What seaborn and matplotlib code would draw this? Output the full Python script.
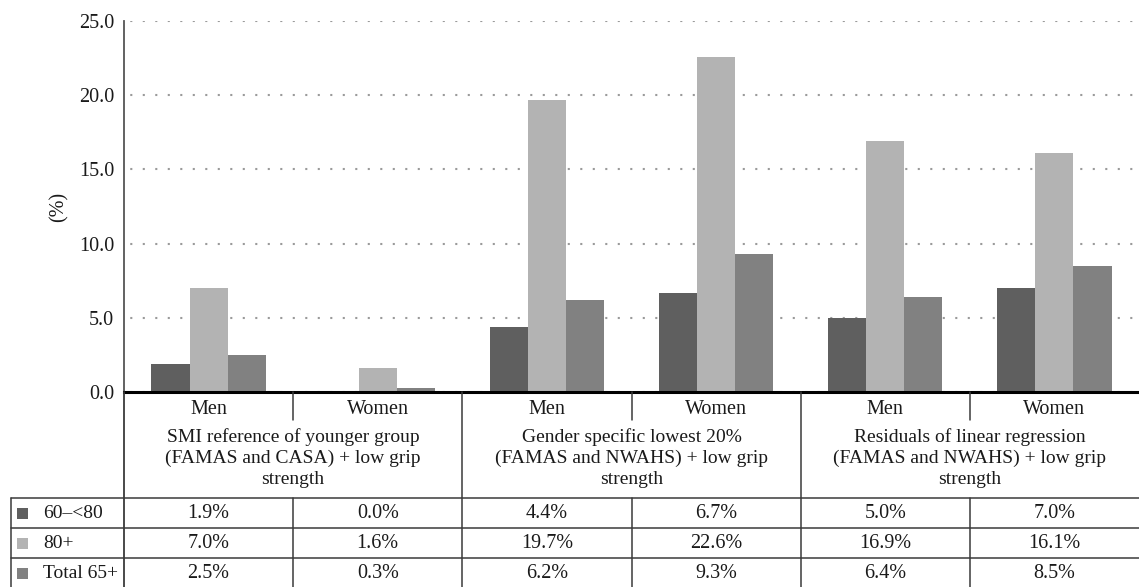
import matplotlib
matplotlib.use("Agg")
import matplotlib.pyplot as plt
import matplotlib.transforms as mtransforms
from matplotlib.lines import Line2D
from matplotlib.patches import Rectangle
import seaborn as sns
import pandas as pd

# ---------------- data ----------------
methods = [
    "SMI reference of younger group\n(FAMAS and CASA) + low grip\nstrength",
    "Gender specific lowest 20%\n(FAMAS and NWAHS) + low grip\nstrength",
    "Residuals of linear regression\n(FAMAS and NWAHS) + low grip\nstrength",
]
sexes = ["Men", "Women"]
categories = ["SMI Men", "SMI Women", "G20 Men", "G20 Women", "Res Men", "Res Women"]
series = ["60\u2013<80", "80+", "Total 65+"]
v_60_80 = [1.9, 0.0, 4.4, 6.7, 5.0, 7.0]
v_80 = [7.0, 1.6, 19.7, 22.6, 16.9, 16.1]
v_total = [2.5, 0.3, 6.2, 9.3, 6.4, 8.5]
colors = ["#5f5f5f", "#b3b3b3", "#818181"]
yticks = [0.0, 5.0, 10.0, 15.0, 20.0, 25.0]

values = [v_60_80, v_80, v_total]
df = pd.DataFrame(
    [(c, s, v) for s, vals in zip(series, values) for c, v in zip(categories, vals)],
    columns=["category", "series", "value"],
)

# ---------------- figure ----------------
W, H = 1139, 587
sns.set_theme(style="white")
plt.rcParams["font.family"] = ["Liberation Serif", "DejaVu Serif"]
FS = 14
TXT = "#1a1a1a"
LINE = "#3a3a3a"

fig = plt.figure(figsize=(W / 100, H / 100), dpi=100)
ax_left, ax_right, ax_top, ax_bottom = 124, 1139, 21, 392
ax = fig.add_axes([ax_left / W, 1 - ax_bottom / H, (ax_right - ax_left) / W, (ax_bottom - ax_top) / H])

sns.barplot(
    data=df, x="category", y="value", hue="series",
    order=categories, hue_order=series, palette=colors,
    width=0.675, saturation=1, legend=False, ax=ax, errorbar=None,
    linewidth=0, edgecolor="none",
)

ax.set_xlim(-0.5, len(categories) - 0.5)
ax.set_ylim(0, 25)
ax.set_yticks(yticks)
ax.set_yticklabels([f"{t:.1f}" for t in yticks], fontsize=FS + 0.5, color=TXT)
ax.tick_params(axis="y", length=0, pad=7)
ax.set_xticks([])
ax.set_xlabel("")
ax.set_ylabel("(%)", fontsize=FS + 0.5, color=TXT)
ax.yaxis.set_label_coords(-0.055, 0.5)

for sp in ["top", "right"]:
    ax.spines[sp].set_visible(False)
ax.spines["bottom"].set_color("black")
ax.spines["bottom"].set_linewidth(2.2)
ax.spines["left"].set_color("#555555")
ax.spines["left"].set_linewidth(1.3)

ax.set_axisbelow(True)
ax.yaxis.grid(True, color="#9a9a9a", linestyle=(3, (1, 5)), linewidth=1.5)

# ---------------- table below the chart ----------------
def fy(ypx):
    return 1 - ypx / H

blend = mtransforms.blended_transform_factory(ax.transData, fig.transFigure)

def vline_data(x, y0, y1, lw=1.1):
    fig.add_artist(Line2D([x, x], [fy(y0), fy(y1)], transform=blend, color=LINE, lw=lw))

def hline_fig(x0px, y, lw=1.1):
    fig.add_artist(Line2D([x0px / W, 1.0], [fy(y), fy(y)], transform=fig.transFigure, color=LINE, lw=lw))

# left spine continued
vline_data(-0.5, ax_bottom, H, lw=1.3)
# group boundaries
for x in [1.5, 3.5]:
    vline_data(x, ax_bottom, H)
# Men/Women separators
for x in [0.5, 2.5, 4.5]:
    vline_data(x, ax_bottom, 420)
    vline_data(x, 498, H)

# horizontal rules of the data rows
row_tops = [498, 528, 558]
for i, y in enumerate(row_tops):
    hline_fig(11, y)
# label column left edge
fig.add_artist(Line2D([11 / W, 11 / W], [fy(498), fy(H)], transform=fig.transFigure, color=LINE, lw=1.1))

# Men / Women labels
for i, c in enumerate(categories):
    fig.text(i, fy(409), sexes[i % 2], transform=blend, ha="center", va="center", fontsize=FS + 0.5, color=TXT)

# method titles
for g, m in enumerate(methods):
    fig.text(2 * g + 0.5, fy(458), m, transform=blend, ha="center", va="center",
             fontsize=FS, color=TXT, linespacing=1.3)

# data rows
for r, (s, vals, col) in enumerate(zip(series, values, colors)):
    yc = row_tops[r] + 15
    fig.add_artist(Rectangle((17 / W, fy(yc + 5.5)), 11 / W, 11 / H, transform=fig.transFigure,
                             facecolor=col, edgecolor="none"))
    fig.text(43 / W, fy(yc), s, ha="left", va="center", fontsize=FS, color=TXT)
    for i, v in enumerate(vals):
        fig.text(i, fy(yc), f"{v:.1f}%", transform=blend, ha="center", va="center",
                 fontsize=FS + 0.5, color=TXT)

fig.savefig("out.png", dpi=100)
